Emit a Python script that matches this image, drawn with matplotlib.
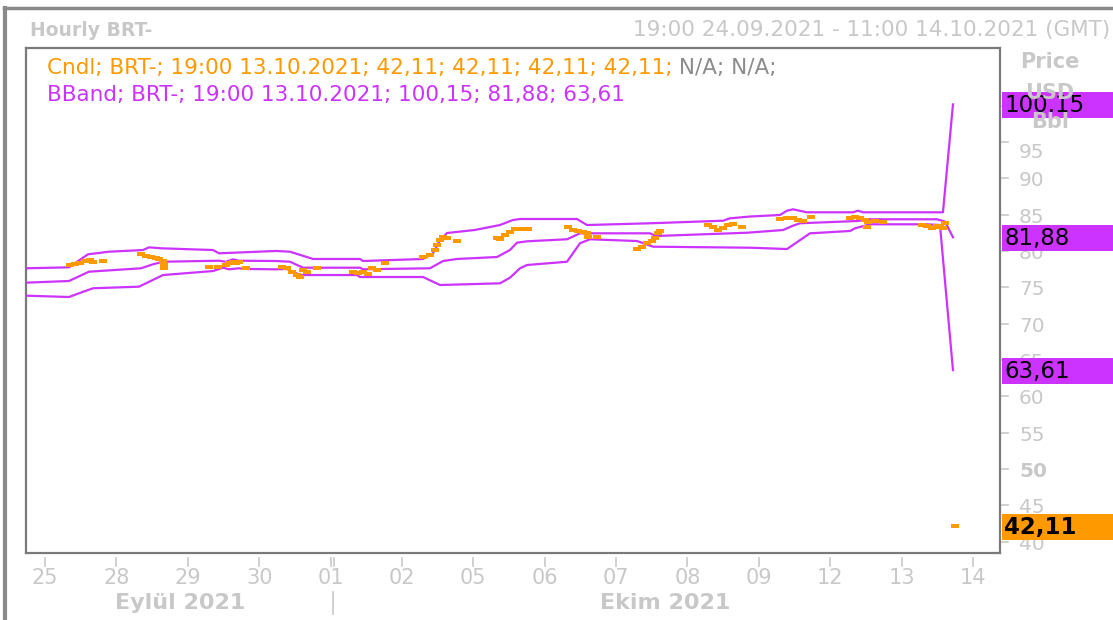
import matplotlib
matplotlib.use("Agg")
import matplotlib.pyplot as plt
import matplotlib.transforms as mtransforms
from matplotlib.patches import Rectangle
from matplotlib.lines import Line2D

# ---------------- data ----------------
# x positions in trading-day units: 0 = session labelled "25", 1 = "28", ...
day_labels = ["25", "28", "29", "30", "01", "02", "05", "06", "07", "08", "09", "12", "13", "14"]
y_ticks = [40, 45, 50, 55, 60, 65, 70, 75, 80, 85, 90, 95]

upper_pos = [-0.266, 0.336, 0.602, 0.897, 1.373, 1.457, 1.625, 2.354, 2.438, 3.236, 3.432, 3.755,
             4.413, 4.455, 5.296, 5.436, 5.534, 5.632, 6.024, 6.374, 6.556, 6.655, 7.453, 7.593,
             8.476, 9.499, 9.597, 9.877, 10.297, 10.395, 10.479, 10.675, 11.320, 11.390, 11.460,
             12.580, 12.720]
upper_val = [77.61, 77.74, 79.53, 79.89, 80.12, 80.49, 80.36, 80.12, 79.67, 79.99, 79.89, 78.89,
             78.89, 78.61, 78.89, 79.67, 81.50, 82.46, 82.88, 83.56, 84.25, 84.39, 84.39, 83.56,
             83.80, 84.15, 84.48, 84.73, 84.94, 85.53, 85.72, 85.31, 85.31, 85.53, 85.31,
             85.31, 100.15]

middle_pos = [-0.266, 0.336, 0.616, 1.345, 1.513, 1.653, 2.438, 2.536, 2.634, 2.718, 3.236, 3.432,
              3.614, 4.413, 4.455, 5.394, 5.576, 5.772, 6.332, 6.514, 6.612, 6.753, 7.313, 7.495,
              8.476, 8.560, 9.835, 10.339, 10.479, 10.577, 11.376, 11.558, 12.496, 12.608, 12.720]
middle_val = [75.63, 75.86, 77.14, 77.61, 78.16, 78.51, 78.65, 78.51, 78.84, 78.65, 78.61, 78.51,
              77.69, 77.69, 77.47, 77.61, 78.61, 78.89, 79.16, 80.12, 81.13, 81.32, 81.60, 82.42,
              82.42, 82.05, 82.50, 82.87, 83.47, 83.80, 84.11, 84.35, 84.35, 84.04, 81.88]

lower_pos = [-0.266, 0.336, 0.476, 0.672, 1.317, 1.653, 2.354, 2.494, 2.578, 2.718, 2.816, 3.236,
             3.390, 3.572, 4.371, 4.413, 5.296, 5.534, 6.374, 6.514, 6.655, 6.753, 7.313, 7.495,
             7.635, 8.294, 8.518, 9.877, 10.395, 10.717, 11.278, 11.348, 11.558, 12.356, 12.538,
             12.720]
lower_val = [73.84, 73.66, 74.17, 74.86, 75.08, 76.68, 77.23, 77.69, 77.47, 77.61, 77.51, 77.47,
             77.51, 76.68, 76.68, 76.41, 76.41, 75.31, 75.54, 76.31, 77.61, 78.06, 78.51, 81.05,
             81.60, 81.36, 80.58, 80.44, 80.26, 82.42, 82.74, 83.11, 83.66, 83.66, 83.56,
             63.61]

candle_pos = [0.350, 0.420, 0.490, 0.560, 0.630, 0.672, 0.813,
              1.345, 1.415, 1.485, 1.555, 1.601, 1.649, 1.671, 1.671,
              2.302, 2.419, 2.536, 2.582, 2.630, 2.676, 2.722, 2.816,
              3.316, 3.386, 3.456, 3.526, 3.572, 3.619, 3.666, 3.806,
              4.319, 4.389, 4.459, 4.529, 4.577, 4.647, 4.763,
              5.300, 5.394, 5.464, 5.488, 5.534, 5.580, 5.628, 5.768,
              6.328, 6.374, 6.444, 6.514, 6.584, 6.655, 6.771,
              7.331, 7.401, 7.471, 7.541, 7.589, 7.611, 7.729,
              8.289, 8.360, 8.430, 8.500, 8.546, 8.593, 8.616,
              9.293, 9.363, 9.433, 9.503, 9.573, 9.643, 9.760,
              10.297, 10.391, 10.483, 10.553, 10.623, 10.727,
              11.278, 11.348, 11.418, 11.488, 11.534, 11.511, 11.627, 11.744,
              12.282, 12.352, 12.422, 12.492, 12.538, 12.584, 12.608,
              12.749]
candle_val = [78.06, 78.20, 78.35, 78.58, 78.75, 78.47, 78.65,
              79.53, 79.34, 79.20, 79.06, 78.89, 78.61, 78.16, 77.61,
              77.83, 77.83, 78.06, 78.29, 78.51, 78.29, 78.43, 77.61,
              77.74, 77.61, 77.14, 76.68, 76.45, 77.37, 77.14, 77.61,
              77.06, 76.92, 77.14, 76.82, 77.69, 77.37, 78.38,
              79.20, 79.44, 80.12, 80.81, 81.50, 81.95, 81.73, 81.40,
              81.73, 81.60, 82.19, 82.64, 82.97, 82.97, 83.01,
              83.25, 82.88, 82.78, 82.64, 82.42, 81.95, 81.95,
              80.22, 80.58, 81.05, 81.40, 81.73, 82.42, 82.78,
              83.56, 83.25, 82.88, 83.11, 83.56, 83.70, 83.33,
              84.39, 84.57, 84.48, 84.25, 84.11, 84.70,
              84.48, 84.70, 84.57, 84.25, 84.02, 83.33, 84.11, 83.93,
              83.56, 83.47, 83.19, 83.47, 83.33, 83.11, 83.80,
              42.11]

last_upper, last_middle, last_lower, last_close = 100.15, 81.88, 63.61, 42.11

# ---------------- style ----------------
PURPLE = "#CC33FF"
ORANGE = "#FF9900"
LGRAY = "#C8C8C8"
FRAME = "#7a7a7a"
FONT = ["DejaVu Sans"]
NARROW = ["DejaVu Sans"]

W, H = 1113, 620
fig = plt.figure(figsize=(W / 100, H / 100), dpi=100)
fig.patch.set_facecolor("white")

L, R, T, B = 26, 1000, 48, 553
ax = fig.add_axes([L / W, (H - B) / H, (R - L) / W, (B - T) / H])
ax.set_xlim(-0.266, 13.379)
ax.set_ylim(38.446, 107.91)
for s in ax.spines.values():
    s.set_color(FRAME)
    s.set_linewidth(1.6)
ax.set_xticks([])
ax.set_yticks([])

# bands
for xs, ys in [(upper_pos, upper_val), (middle_pos, middle_val), (lower_pos, lower_val)]:
    ax.plot(xs, ys, color=PURPLE, lw=1.6, solid_joinstyle="round", zorder=3)

# candles (tiny bodies)
for p, v in zip(candle_pos, candle_val):
    ax.add_patch(Rectangle((p - 0.055, v - 0.28), 0.11, 0.56, facecolor=ORANGE,
                           edgecolor="none", zorder=4))

# ---------------- outer frame ----------------
fig.add_artist(Line2D([5 / W, 5 / W], [0, 1 - 8 / H], color="#8a8a8a", lw=3,
                      transform=fig.transFigure))
fig.add_artist(Line2D([3.5 / W, 1], [1 - 8 / H, 1 - 8 / H], color="#8a8a8a", lw=2.5,
                      transform=fig.transFigure))

# ---------------- header texts ----------------
fig.text(30 / W, 1 - 30 / H, "Hourly BRT-", fontsize=13.5, fontweight="bold", color=LGRAY,
         family=FONT, va="center", ha="left")
fig.text(1110 / W, 1 - 30 / H, "19:00 24.09.2021 - 11:00 14.10.2021 (GMT)", fontsize=15.5,
         color=LGRAY, family=FONT, va="center", ha="right")

t1 = fig.text(47 / W, 1 - 68 / H, "Cndl; BRT-; 19:00 13.10.2021; 42,11; 42,11; 42,11; 42,11;",
              fontsize=15.5, color=ORANGE, family=FONT, va="center", ha="left")
fig.canvas.draw()
ax.annotate(" N/A; N/A;", xy=(1, 0.5), xycoords=t1, va="center", ha="left",
            fontsize=15.5, color="#8c8c8c", family=FONT)
fig.text(47 / W, 1 - 95 / H, "BBand; BRT-; 19:00 13.10.2021; 100,15; 81,88; 63,61",
         fontsize=15.5, color=PURPLE, family=FONT, va="center", ha="left")

# ---------------- right axis ----------------
ytr = ax.get_yaxis_transform()
for v in y_ticks + [100]:
    ax.add_line(Line2D([1 + 2 / 974, 1 + 8 / 974], [v, v], color=LGRAY, lw=1.2,
                       transform=ytr, clip_on=False))
for v in y_ticks:
    off = 11 if v == 95 else 2.5
    tr = mtransforms.offset_copy(ytr, fig=fig, x=0, y=-off, units="dots")
    ax.text(1 + 19 / 974, v, str(v), transform=tr, fontsize=14.5, color=LGRAY, family=FONT,
            va="center", ha="left", fontweight="bold" if v == 50 else "normal", clip_on=False)

fig.text(1050 / W, 1 - 62 / H, "Price", fontsize=15, fontweight="bold", color=LGRAY,
         family=FONT, ha="center", va="center")
fig.text(1050 / W, 1 - 93 / H, "USD", fontsize=15, fontweight="bold", color=LGRAY,
         family=FONT, ha="center", va="center")
fig.text(1050 / W, 1 - 122 / H, "Bbl", fontsize=15, fontweight="bold", color=LGRAY,
         family=FONT, ha="center", va="center")

# value boxes
boxes = [(last_upper, PURPLE, "100,15", "normal"), (last_middle, PURPLE, "81,88", "normal"),
         (last_lower, PURPLE, "63,61", "normal"), (last_close, ORANGE, "42,11", "bold")]
for v, col, lab, fw in boxes:
    tr = mtransforms.offset_copy(ytr, fig=fig, x=0, y=-1, units="dots")
    ax.add_patch(Rectangle((1 + 2 / 974, v - 13 / 7.27), 120 / 974, 26 / 7.27, transform=tr,
                           facecolor=col, edgecolor="none", clip_on=False, zorder=10))
    ax.text(1 + 4 / 974, v, lab, transform=tr, fontsize=16.5, color="black", family=FONT,
            fontweight=fw, va="center", ha="left", clip_on=False, zorder=11)

# ---------------- bottom axis ----------------
xtr = ax.get_xaxis_transform()
for i, lab in enumerate(day_labels):
    ax.add_line(Line2D([i, i], [-5 / 505, -13 / 505], color=LGRAY, lw=1.2, transform=xtr,
                       clip_on=False))
    ax.text(i, -25 / 505, lab, transform=xtr, fontsize=15, color=LGRAY, family=NARROW,
            ha="center", va="center", clip_on=False)
ax.add_line(Line2D([4 + 3 / 71.38, 4 + 3 / 71.38], [-5 / 505, -13 / 505], color=LGRAY, lw=1.2,
                   transform=xtr, clip_on=False))

fig.text(180 / W, 1 - 603 / H, "Eylül 2021", fontsize=16, fontweight="bold", color=LGRAY,
         family=NARROW, ha="center", va="center")
fig.text(665 / W, 1 - 603 / H, "Ekim 2021", fontsize=16, fontweight="bold", color=LGRAY,
         family=NARROW, ha="center", va="center")
fig.add_artist(Line2D([333 / W, 333 / W], [1 - 592 / H, 1 - 614 / H], color=LGRAY, lw=1.2,
                      transform=fig.transFigure))

fig.savefig("out.png", dpi=100, facecolor="white")
